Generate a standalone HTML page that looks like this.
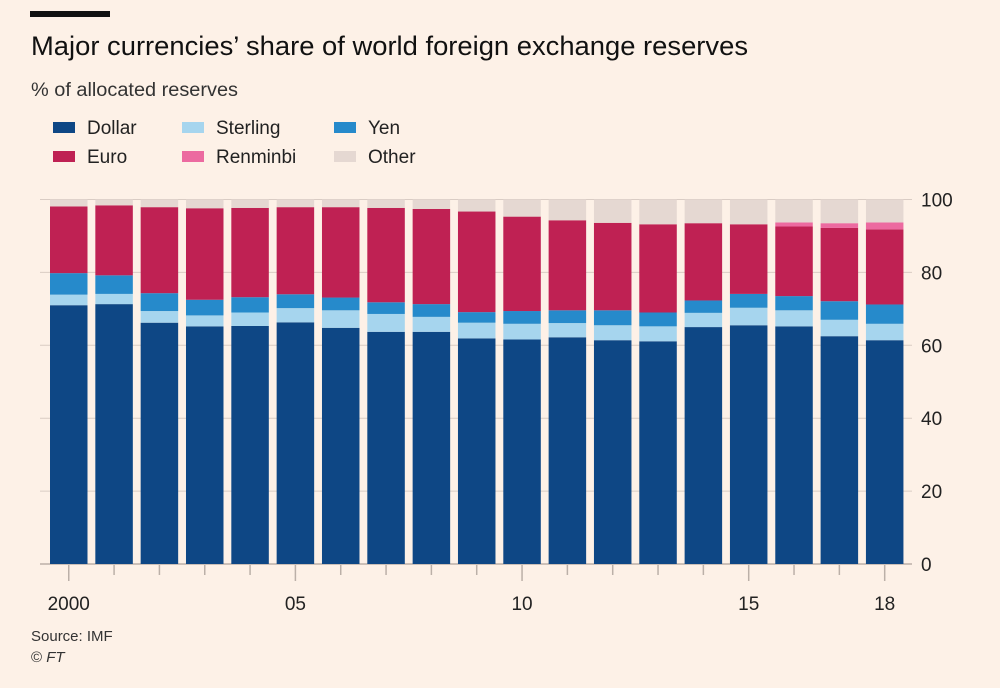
<!DOCTYPE html>
<html><head><meta charset="utf-8"><style>
body{margin:0;background:#fdf1e7;font-family:"Liberation Sans",sans-serif;}
#wrap{position:relative;width:1000px;height:688px;overflow:hidden;background:#fdf1e7;}
</style></head><body>
<div id="wrap">
<svg id="svg" width="1000" height="688" xmlns="http://www.w3.org/2000/svg">
<rect x="30" y="11" width="80" height="6" fill="#111"/>
<text x="31" y="55" font-size="27" textLength="717" lengthAdjust="spacingAndGlyphs" fill="#111">Major currencies’ share of world foreign exchange reserves</text>
<text x="31" y="96" font-size="19" textLength="207" lengthAdjust="spacingAndGlyphs" fill="#333">% of allocated reserves</text>
<g id="legend"></g>
<g id="grid"></g>
<g id="bars"></g>
<g id="xaxis"></g>
<g id="yaxis"></g>
<text x="31" y="641" font-size="15" fill="#333">Source: IMF</text>
<text x="31" y="662" font-size="15" fill="#333">© <tspan font-style="italic">FT</tspan></text>
</svg>
</div>
<script>
const years=[2000,2001,2002,2003,2004,2005,2006,2007,2008,2009,2010,2011,2012,2013,2014,2015,2016,2017,2018];
const xLabels=["2000","","","","","05","","","","","10","","","","","15","","","18"];
const dollar=[71.0,71.3,66.2,65.2,65.3,66.3,64.8,63.7,63.7,61.9,61.6,62.2,61.4,61.1,65.0,65.5,65.2,62.5,61.4];
const sterling=[2.9,2.8,3.2,3.0,3.7,3.9,4.8,4.9,4.1,4.3,4.3,3.9,4.1,4.1,3.9,4.8,4.4,4.5,4.5];
const yen=[5.9,5.1,4.9,4.3,4.2,3.8,3.5,3.2,3.5,2.9,3.5,3.5,4.1,3.8,3.4,3.8,3.9,5.1,5.3];
const euro=[18.3,19.2,23.6,25.1,24.5,23.9,24.8,25.9,26.1,27.6,25.9,24.7,24.0,24.2,21.2,19.1,19.1,20.1,20.6];
const renminbi=[0,0,0,0,0,0,0,0,0,0,0,0,0,0,0,0,1.1,1.3,1.9];
const yTicks=[0,20,40,60,80,100];
const NS="http://www.w3.org/2000/svg";
const colors={dollar:"#0e4785",sterling:"#a6d5ee",yen:"#268acb",euro:"#bf2153",renminbi:"#ec6aa0",other:"#e5d8d2"};
const y0=564,y100=199.5,x0=50,step=45.33,bw=37.5;
function Y(v){return y0-(y0-y100)*v/100;}
function X(i){return x0+i*step;}
function el(tag,attrs,parent){const e=document.createElementNS(NS,tag);for(const k in attrs)e.setAttribute(k,attrs[k]);parent.appendChild(e);return e;}
const grid=document.getElementById('grid'),bars=document.getElementById('bars'),xa=document.getElementById('xaxis'),ya=document.getElementById('yaxis'),lg=document.getElementById('legend');
yTicks.forEach(t=>{
  const l=el('line',{x1:40,x2:912,y1:Y(t),y2:Y(t),stroke:t===0?'#bbb0a8':'#d9ccc4','stroke-width':t===0?1.5:1},grid);
  
  
  const tx=el('text',{x:921,y:Y(t)+7,'font-size':19,fill:'#222'},ya);
  tx.textContent=t;
  
  
});
const series=[["dollar",dollar],["sterling",sterling],["yen",yen],["euro",euro],["renminbi",renminbi]];
years.forEach((yr,i)=>{
  let acc=0;
  series.forEach(([n,arr])=>{
    const v=arr[i];
    if(v>0){
      const r=el('rect',{x:X(i),y:Y(acc+v),width:bw,height:Y(acc)-Y(acc+v),fill:colors[n]},bars);
      
      
    }
    acc+=v;
  });
  const o=el('rect',{x:X(i),y:Y(100),width:bw,height:Y(acc)-Y(100),fill:colors.other},bars);
  
  
  const cx=X(i)+bw/2;
  const big=xLabels[i]!=="";
  const tk=el('line',{x1:cx,x2:cx,y1:y0+1,y2:big?y0+17:y0+11,stroke:'#bbb0a8','stroke-width':1.5},xa);
  
  
  if(big){
    const t=el('text',{x:cx,y:610,'font-size':19,fill:'#222','text-anchor':'middle'},xa);
    t.textContent=xLabels[i];
    
    
  }
});
const legendItems=[["Dollar","dollar",53,122],["Sterling","sterling",182,122],["Yen","yen",334,122],["Euro","euro",53,151],["Renminbi","renminbi",182,151],["Other","other",334,151]];
legendItems.forEach(([lab,key,x,y])=>{
  const g=el('g',{},lg);
  
  
  el('rect',{x:x,y:y,width:22,height:11,fill:colors[key]},g);
  const t=el('text',{x:x+34,y:y+12,'font-size':19,fill:'#222'},g);
  t.textContent=lab;
});
</script>
</body></html>
